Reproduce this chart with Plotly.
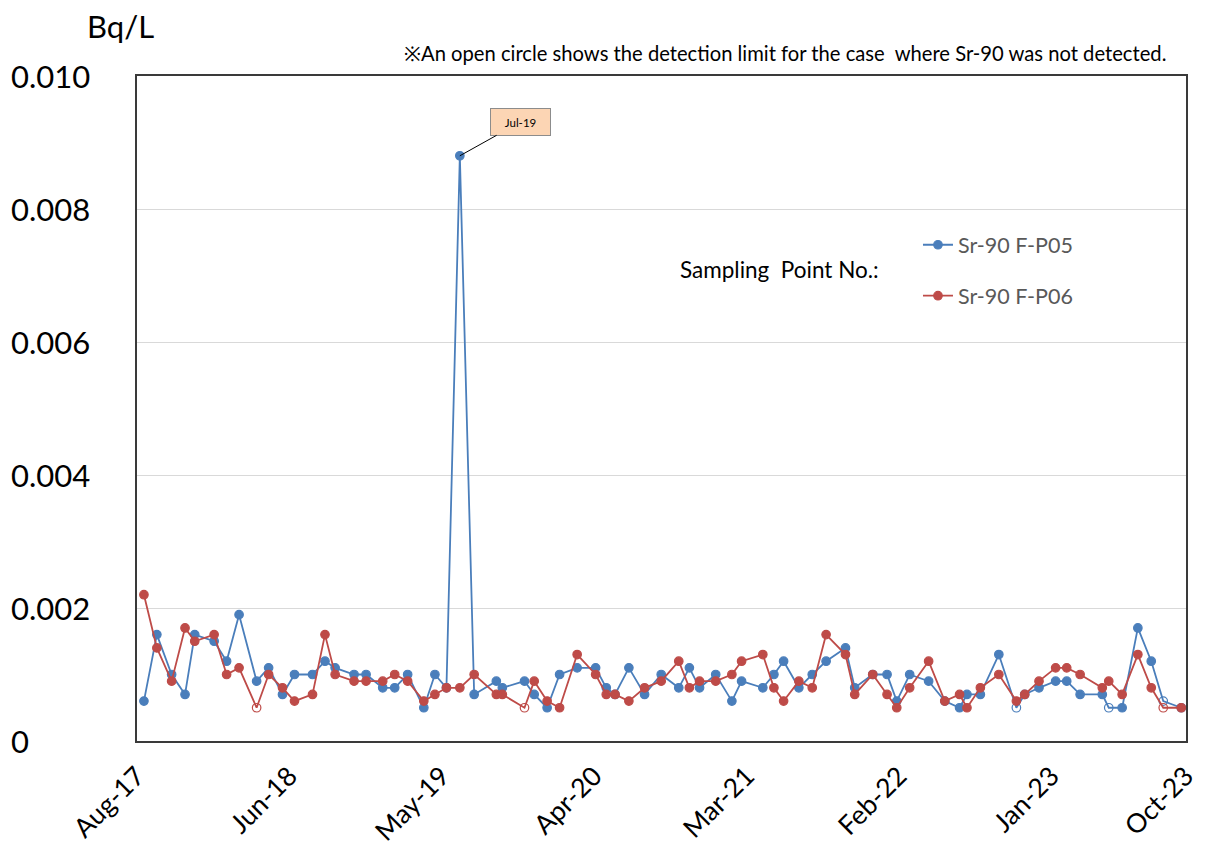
import plotly.graph_objects as go

# sampling dates (monthly, Aug-17 .. Oct-23)
dates = [
    "2017-08-16", "2017-09-13", "2017-10-15", "2017-11-13", "2017-12-04",
    "2018-01-15", "2018-02-11", "2018-03-10", "2018-04-17", "2018-05-13",
    "2018-06-12", "2018-07-08", "2018-08-16", "2018-09-12", "2018-10-04",
    "2018-11-14", "2018-12-10", "2019-01-15", "2019-02-10", "2019-03-10",
    "2019-04-14", "2019-05-08", "2019-06-02", "2019-07-01", "2019-08-01",
    "2019-09-18", "2019-10-01", "2019-11-18", "2019-12-09", "2020-01-06",
    "2020-02-02", "2020-03-11", "2020-04-20", "2020-05-13", "2020-06-01",
    "2020-07-01", "2020-08-04", "2020-09-09", "2020-10-17", "2020-11-09",
    "2020-12-01", "2021-01-05", "2021-02-09", "2021-03-02", "2021-04-17",
    "2021-05-11", "2021-06-01", "2021-07-04", "2021-08-02", "2021-09-01",
    "2021-10-13", "2021-11-02", "2021-12-11", "2022-01-11", "2022-02-01",
    "2022-03-01", "2022-04-11", "2022-05-16", "2022-06-17", "2022-07-03",
    "2022-08-01", "2022-09-10", "2022-10-18", "2022-11-05", "2022-12-06",
    "2023-01-11", "2023-02-04", "2023-03-05", "2023-04-22", "2023-05-06",
    "2023-06-04", "2023-07-08", "2023-08-06", "2023-09-01", "2023-10-10",
]

sr90_p05 = [
    0.0006, 0.0016, 0.0010, 0.0007, 0.0016, 0.0015, 0.0012, 0.0019, 0.0009, 0.0011,
    0.0007, 0.0010, 0.0010, 0.0012, 0.0011, 0.0010, 0.0010, 0.0008, 0.0008, 0.0010,
    0.0005, 0.0010, 0.0008, 0.0088, 0.0007, 0.0009, 0.0008, 0.0009, 0.0007, 0.0005,
    0.0010, 0.0011, 0.0011, 0.0008, 0.0007, 0.0011, 0.0007, 0.0010, 0.0008, 0.0011,
    0.0008, 0.0010, 0.0006, 0.0009, 0.0008, 0.0010, 0.0012, 0.0008, 0.0010, 0.0012,
    0.0014, 0.0008, 0.0010, 0.0010, 0.0006, 0.0010, 0.0009, 0.0006, 0.0005, 0.0007,
    0.0007, 0.0013, 0.0005, 0.0007, 0.0008, 0.0009, 0.0009, 0.0007, 0.0007, 0.0005,
    0.0005, 0.0017, 0.0012, 0.0006, 0.0005,
]

sr90_p06 = [
    0.0022, 0.0014, 0.0009, 0.0017, 0.0015, 0.0016, 0.0010, 0.0011, 0.0005, 0.0010,
    0.0008, 0.0006, 0.0007, 0.0016, 0.0010, 0.0009, 0.0009, 0.0009, 0.0010, 0.0009,
    0.0006, 0.0007, 0.0008, 0.0008, 0.0010, 0.0007, 0.0007, 0.0005, 0.0009, 0.0006,
    0.0005, 0.0013, 0.0010, 0.0007, 0.0007, 0.0006, 0.0008, 0.0009, 0.0012, 0.0008,
    0.0009, 0.0009, 0.0010, 0.0012, 0.0013, 0.0008, 0.0006, 0.0009, 0.0008, 0.0016,
    0.0013, 0.0007, 0.0010, 0.0007, 0.0005, 0.0008, 0.0012, 0.0006, 0.0007, 0.0005,
    0.0008, 0.0010, 0.0006, 0.0007, 0.0009, 0.0011, 0.0011, 0.0010, 0.0008, 0.0009,
    0.0007, 0.0013, 0.0008, 0.0005, 0.0005,
]

# dates where Sr-90 was not detected (value = detection limit)
p05_not_detected = ["2022-10-18", "2023-05-06", "2023-09-01"]
p06_not_detected = ["2018-04-17", "2019-11-18", "2023-09-01"]

x_tick_dates = ["2017-08-01", "2018-06-27", "2019-05-23", "2020-04-17",
                "2021-03-13", "2022-02-06", "2023-01-02", "2023-10-20"]
x_tick_labels = ["Aug-17", "Jun-18", "May-19", "Apr-20",
                 "Mar-21", "Feb-22", "Jan-23", "Oct-23"]
y_ticks = [0, 0.002, 0.004, 0.006, 0.008, 0.010]
y_tick_labels = ["0", "0.002", "0.004", "0.006", "0.008", "0.010"]

FONT = "Lato, 'Open Sans', sans-serif"
BLUE = "#4A7EBB"
RED = "#BE4B48"


def symbols(nd):
    return ["circle-open" if d in nd else "circle" for d in dates]


fig = go.Figure()

fig.add_trace(go.Scatter(
    x=dates, y=sr90_p05, mode="lines+markers", name="Sr-90 F-P05",
    legendgroup="a",
    line=dict(color=BLUE, width=1.8),
    marker=dict(color=BLUE, size=8.5, symbol=symbols(p05_not_detected),
                line=dict(color=BLUE, width=1.2)),
))
fig.add_trace(go.Scatter(
    x=dates, y=sr90_p06, mode="lines+markers", name="Sr-90 F-P06",
    legendgroup="b",
    line=dict(color=RED, width=1.8),
    marker=dict(color=RED, size=8.5, symbol=symbols(p06_not_detected),
                line=dict(color=RED, width=1.2)),
))

annotations = []
for v, t in zip(y_ticks, y_tick_labels):
    annotations.append(dict(
        x=0, xref="paper", y=v, yref="y", text=t, showarrow=False,
        xanchor="left", yanchor="middle", xshift=-128,
        font=dict(size=31, color="black", family=FONT),
    ))

# spike callout
peak = max(sr90_p05)
annotations.append(dict(
    x=dates[sr90_p05.index(peak)], y=peak, xref="x", yref="y",
    text="Jul-19", showarrow=True, arrowhead=0, arrowwidth=1, arrowcolor="black",
    ax=61, ay=-34, bgcolor="#FCD5B4", bordercolor="#8C8C8C", borderwidth=1,
    width=57, height=24, font=dict(size=11.5, color="black", family=FONT),
))

annotations += [
    dict(x=-0.05, y=1.075, xref="paper", yref="paper", text="Bq/L", showarrow=False,
         xanchor="left", yanchor="middle", font=dict(size=31, color="black", family=FONT)),
    dict(x=0.983, y=1.034, xref="paper", yref="paper",
         text="※An open circle shows the detection limit for the case\u00a0 where Sr-90 was not detected.",
         showarrow=False, xanchor="right", yanchor="middle",
         font=dict(size=20.2, color="black", family=FONT)),
    dict(x=0.516, y=0.709, xref="paper", yref="paper", text="Sampling\u00a0 Point No.:",
         showarrow=False, xanchor="left", yanchor="middle",
         font=dict(size=22.5, color="black", family=FONT)),
]

# page body has an 8px default margin, so the figure is offset by 8px
fig.update_layout(
    width=1195, height=840,
    margin=dict(l=129, r=17, t=68, b=107, autoexpand=False),
    paper_bgcolor="white", plot_bgcolor="white",
    font=dict(family=FONT, color="black"),
    showlegend=True,
    legend=dict(x=0.7445, y=0.777, xanchor="left", yanchor="top",
                font=dict(size=21.5, color="#595959", family=FONT),
                tracegroupgap=20, bgcolor="rgba(0,0,0,0)"),
    annotations=annotations,
)

fig.update_xaxes(
    type="date", range=["2017-08-01", "2023-10-20 06:00"],
    tickvals=x_tick_dates, ticktext=x_tick_labels, tickangle=-45,
    tickfont=dict(size=26.5, family=FONT, color="black"), automargin=False,
    ticklabelstandoff=7,
    showgrid=False, ticks="", showline=True, linecolor="#3A3A3A", linewidth=1.8,
    mirror=True,
)
fig.update_yaxes(
    range=[0, 0.010], tickvals=y_ticks, showticklabels=False, automargin=False,
    showgrid=True, gridcolor="#D9D9D9", gridwidth=1, zeroline=False,
    showline=True, linecolor="#3A3A3A", linewidth=1.8, mirror=True,
)

fig.write_html("out.html")
